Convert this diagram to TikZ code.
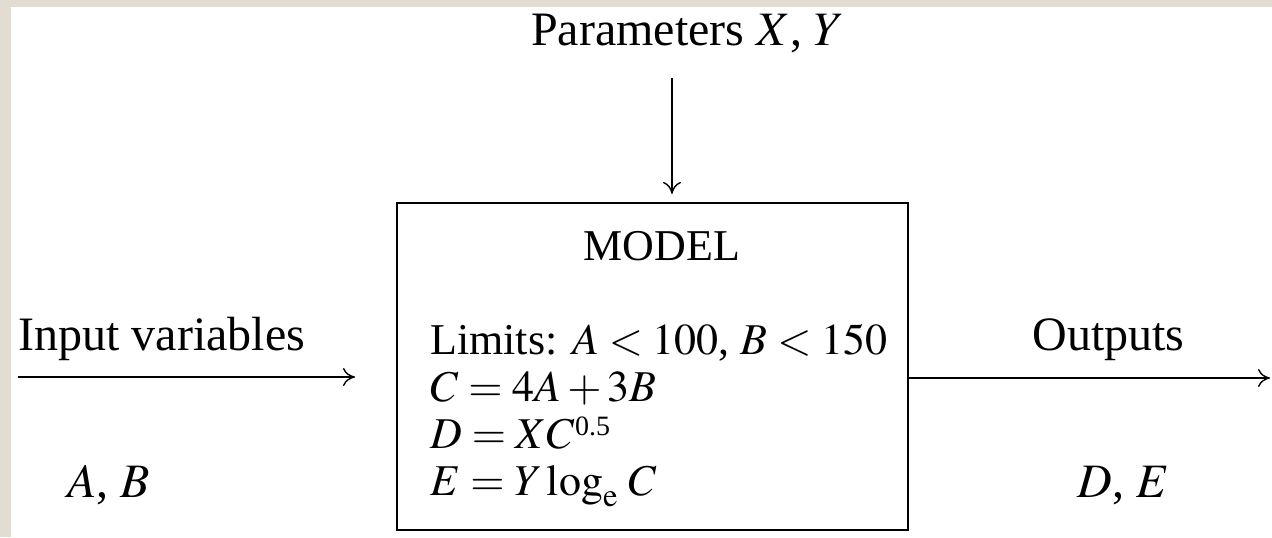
\documentclass[tikz,border=0pt]{standalone}
\usepackage{mathptmx}
\usepackage{fontspec}
\setmainfont{Liberation Serif}
\usetikzlibrary{arrows.meta}
\definecolor{pagebeige}{RGB}{227,220,210}

\begin{document}
\begin{tikzpicture}[x=0.5pt, y=-0.5pt, font=\fontsize{22}{23.5}\selectfont,
	txt/.style={inner sep=0pt, anchor=base west},
	label/.style={txt, font=\fontsize{24}{26}\selectfont},
	flow/.style={line width=0.7pt, -{To[length=6pt, width=9pt]}}]
			\useasboundingbox (0,0) rectangle (1272,537);
			\fill[pagebeige] (0,0) rectangle (1272,537);
			\fill[white] (11,7) rectangle (1272,537);
			% the model box
			\node[draw, line width=1.1pt, inner sep=0pt, minimum width=255.5pt, minimum height=163.5pt](model) at (652.5,366.5){};
			\node[inner sep=0pt, anchor=base](title) at (662,260){MODEL};
			% base of a multi-line node is its last line
			\node[txt, align=left, execute at begin node={\thickmuskip=4mu plus 2mu}](rules) at (430,495){Limits: $A<100$, $B<150$\\
				$C=4A+3B$\\
				$D=XC^{\raisebox{-1.5pt}{\fontsize{14}{14}\selectfont 0.5}}$\\
				$E=Y\log_{\mathrm{e}}\,C$};
			% parameters
			\node[label, anchor=base](params) at (688,45){Parameters $X$, $Y$};
			\coordinate (ptop) at (672,78);
			\draw[flow, shorten >=4pt] (ptop) -- (ptop |- model.north);
			% inputs
			\node[label](inlabel) at (18,350){Input variables};
			\node[label](invars) at (67,497){$A$, $B$};
			\coordinate (in0) at (18,377);
			\coordinate (in1) at (355,377);
			\draw[flow] (in0) -- (in1);
			% outputs
			\node[label](outlabel) at (1032,350){Outputs};
			\node[label](outvars) at (1077,497){$D$, $E$};
			\coordinate (out1) at (1270,378);
			\draw[flow] (model.east |- out1) -- (out1);
\end{tikzpicture}
\end{document}
